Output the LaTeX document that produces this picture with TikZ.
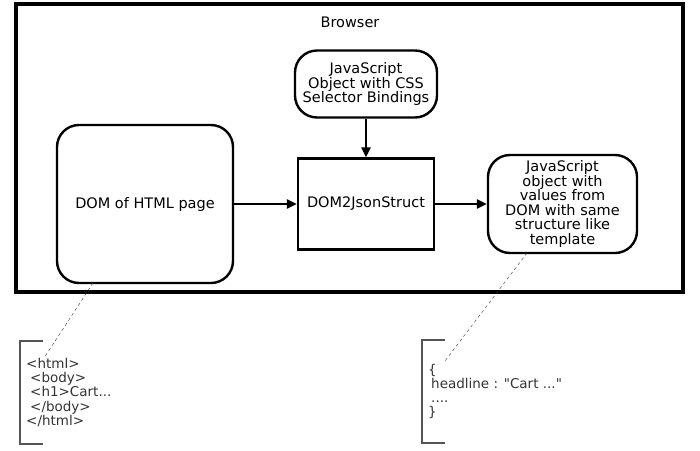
\documentclass[tikz,border=0pt]{standalone}
\usepackage{fontspec}
\setmainfont{DejaVu Sans}
\newfontfamily\codefont{DejaVu Sans}
\usepackage{xcolor}
\usepackage{tikz}
\usetikzlibrary{arrows.meta}

\definecolor{codegray}{HTML}{333333}
\definecolor{bracketgray}{HTML}{555555}

\begin{document}
\begin{tikzpicture}[x=1pt,y=-1pt,
    roundbox/.style={draw, line width=2.4pt, rounded corners=22pt, align=center, inner sep=0pt, font=\fontsize{14.5}{14.5}\selectfont},
    plainbox/.style={draw, line width=2.4pt, align=center, inner sep=0pt, font=\fontsize{14.5}{14.5}\selectfont},
    flow/.style={-{Triangle[length=10pt,width=9pt]}, line width=2.4pt},
    codetext/.style={anchor=base west, inner sep=0pt, text=codegray, font=\codefont\fontsize{13.5}{13.5}\selectfont},
    note/.style={dashed, thin, black!80}]
    \useasboundingbox (0,0) rectangle (700,450);

    % Browser frame
    \node[draw, line width=3.4pt, minimum width=667pt, minimum height=288pt, inner sep=0pt] (browser) at (349.5,148) {};
    \node[font=\fontsize{14.5}{14.5}\selectfont] (browserlabel) at (350,22) {Browser};

    % the three stages
    \node[roundbox, minimum width=176pt, minimum height=158pt] (dom) at (145,204) {DOM of HTML page};
    \node[roundbox, minimum width=142pt, minimum height=67pt] (bindings) at (366,84) {JavaScript\\Object with CSS\\Selector Bindings};
    \node[plainbox, minimum width=136pt, minimum height=91pt] (d2j) at (366,204) {DOM2JsonStruct};
    \node[roundbox, minimum width=149pt, minimum height=98pt] (result) at (562.5,204) {JavaScript\\object with\\values from\\DOM with same\\structure like\\template};

    \draw[flow] (dom) -- (d2j);
    \draw[flow] (bindings) -- (d2j);
    \draw[flow] (d2j) -- (result);

    % annotations
    \coordinate (domfoot) at (93,283);
    \coordinate (htmlnote) at (44,358);
    \draw[note] (domfoot) -- (htmlnote);
    \draw[bracketgray, line width=1.6pt] (43,341) -- (20,341) -- (20,444) -- (43,444);
    \node[codetext] (l1) at (26,368) {<html>};
    \node[codetext] (l2) at (30,382) {<body>};
    \node[codetext] (l3) at (30,396) {<h1>Cart...};
    \node[codetext] (l4) at (30,411) {</body>};
    \node[codetext] (l5) at (26,425) {</html>};

    \coordinate (resultfoot) at (527,253);
    \coordinate (jsonnote) at (445,361);
    \draw[note] (resultfoot) -- (jsonnote);
    \draw[bracketgray, line width=1.6pt] (445,340) -- (422,340) -- (422,443) -- (445,443);
    \node[codetext] (j1) at (428,374) {\{};
    \node[codetext] (j2) at (431,388) {headline : "Cart ..."};
    \node[codetext] (j3) at (431,402) {....};
    \node[codetext] (j4) at (428,416) {\}};
\end{tikzpicture}
\end{document}
